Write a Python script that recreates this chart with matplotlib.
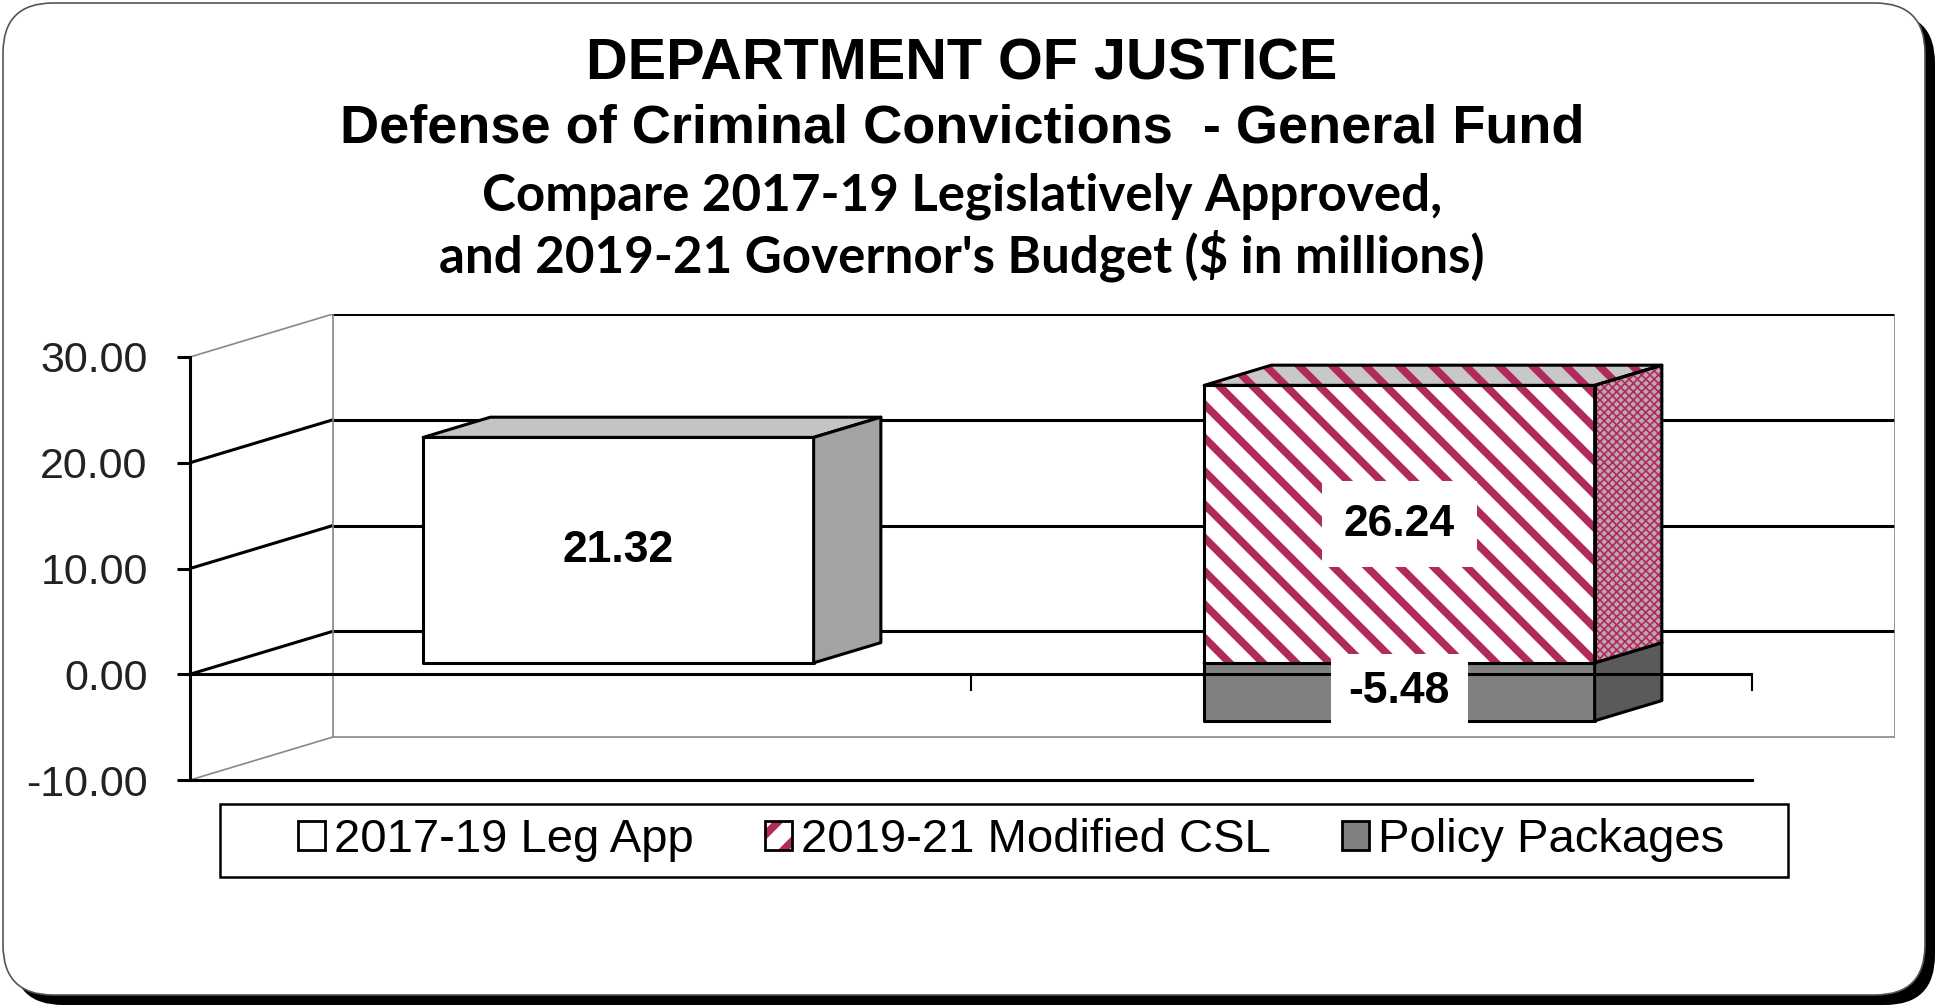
import numpy as np
import matplotlib
matplotlib.use("Agg")
import matplotlib.pyplot as plt
from matplotlib.patches import Polygon, Patch, FancyBboxPatch, Rectangle
from matplotlib.ticker import FormatStrFormatter

# === Dados ===
categorias = ["2017-19", "2019-21"]
series = ["2017-19 Leg App", "2019-21 Modified CSL", "Policy Packages"]
leg_app = [21.32, np.nan]
modified_csl = [np.nan, 26.24]
policy_packages = [np.nan, -5.48]
y_ticks = [-10, 0, 10, 20, 30]

titulo = ["DEPARTMENT OF JUSTICE",
          "Defense of Criminal Convictions  - General Fund",
          "Compare 2017-19 Legislatively Approved,",
          "and 2019-21 Governor's Budget ($ in millions)"]

# === Estilo ===
W, H, DPI = 1938, 1008, 100
plt.rcParams["font.family"] = ["Liberation Sans", "DejaVu Sans"]
plt.rcParams["hatch.linewidth"] = 5.5
CRIMSON = "#b02a5c"
LW = 2.2

# projecao pseudo 3D: deslocamento da parede do fundo
px_cat = 781.0      # pixels por categoria
px_val = 10.575     # pixels por unidade
ox = 143 / px_cat
oy = 43 / px_val
d0, d1 = 0.265, 0.735   # profundidade das barras
bw = 0.5

fig = plt.figure(figsize=(W / DPI, H / DPI), dpi=DPI)

# moldura arredondada com sombra
sombra = FancyBboxPatch((0.13, 0.03), 19.22, 9.92, boxstyle="round,pad=0,rounding_size=0.5",
                        transform=fig.dpi_scale_trans, facecolor="black", edgecolor="none", zorder=-3)
moldura = FancyBboxPatch((0.03, 0.13), 19.22, 9.92, boxstyle="round,pad=0,rounding_size=0.5",
                         transform=fig.dpi_scale_trans, facecolor="white", edgecolor="#555555", lw=1.2,
                         zorder=-2)
fig.patches.extend([sombra, moldura])

# === Eixo ===
ymin, ymax = y_ticks[0], y_ticks[-1]
left = 190 / W
bottom = (H - 780) / H
ax = fig.add_axes([left, bottom, (2 + ox) * px_cat / W, (ymax - ymin + oy) * px_val / H])
ax.set_xlim(-0.5, 1.5 + ox)
ax.set_ylim(ymin, ymax + oy)
ax.patch.set_visible(False)
for s in ["top", "right"]:
    ax.spines[s].set_visible(False)
ax.spines["left"].set_bounds(ymin, ymax)
ax.spines["bottom"].set_bounds(-0.5, 1.5)
ax.spines["left"].set_linewidth(LW)
ax.spines["bottom"].set_linewidth(LW)
ax.set_xticks([])
ax.set_yticks(y_ticks)
ax.yaxis.set_major_formatter(FormatStrFormatter("%.2f"))
ax.tick_params(axis="y", length=9.5, width=LW, pad=21, labelsize=31, labelcolor="#222222")

# paredes e grade
xb0, xb1 = -0.5 + ox, 1.5 + ox
for v in y_ticks:
    borda = v in (ymin, ymax)
    cor_lado = "#888888" if borda else "black"
    lw_lado = 1.2 if borda else LW
    ax.plot([-0.5, xb0], [v, v + oy], color=cor_lado, lw=lw_lado, zorder=1, solid_capstyle="butt")
    if v == ymin:
        ax.plot([xb0, xb1], [v + oy, v + oy], color="#888888", lw=1.2, zorder=1)
    else:
        ax.plot([xb0, xb1], [v + oy, v + oy], color="black", lw=LW, zorder=1)
ax.plot([xb0, xb0], [ymin + oy, ymax + oy], color="#888888", lw=1.2, zorder=1)
ax.plot([xb1, xb1], [ymin + oy, ymax + oy], color="#888888", lw=1.2, zorder=1)


def caixa(xc, v0, v1, frente, topo, lado, z):
    x0, x1 = xc - bw / 2, xc + bw / 2
    vt = max(v0, v1)
    f = [(x0 + d0 * ox, v0 + d0 * oy), (x1 + d0 * ox, v0 + d0 * oy),
         (x1 + d0 * ox, v1 + d0 * oy), (x0 + d0 * ox, v1 + d0 * oy)]
    t = [(x0 + d0 * ox, vt + d0 * oy), (x1 + d0 * ox, vt + d0 * oy),
         (x1 + d1 * ox, vt + d1 * oy), (x0 + d1 * ox, vt + d1 * oy)]
    s = [(x1 + d0 * ox, v0 + d0 * oy), (x1 + d1 * ox, v0 + d1 * oy),
         (x1 + d1 * ox, v1 + d1 * oy), (x1 + d0 * ox, v1 + d0 * oy)]
    for pts, kw in ((f, frente), (t, topo), (s, lado)):
        hatch = kw.get("hatch")
        if hatch:
            with plt.rc_context({"hatch.linewidth": kw.get("hlw", 5.5)}):
                ax.add_patch(Polygon(pts, closed=True, facecolor=kw["fc"], edgecolor=CRIMSON,
                                     hatch=hatch, lw=0, zorder=z))
            ax.add_patch(Polygon(pts, closed=True, fill=False, edgecolor="black", lw=LW,
                                 joinstyle="round", zorder=z + 0.1))
        else:
            ax.add_patch(Polygon(pts, closed=True, facecolor=kw["fc"], edgecolor="black", lw=LW,
                                 joinstyle="round", zorder=z))
    return xc + d0 * ox, (v0 + v1) / 2 + d0 * oy


for i, cat in enumerate(categorias):
    if not np.isnan(leg_app[i]):
        cx, cy = caixa(i, 0, leg_app[i], {"fc": "white"}, {"fc": "#c4c4c4"}, {"fc": "#a3a3a3"}, 3)
        ax.text(cx, cy, f"{leg_app[i]:.2f}", ha="center", va="center", fontsize=32,
                fontweight="bold", zorder=10)
    if not np.isnan(policy_packages[i]):
        cx, cy = caixa(i, 0, policy_packages[i], {"fc": "#808080"}, {"fc": "#a0a0a0"}, {"fc": "#5a5a5a"}, 3)
        ax.text(cx, cy, f"{policy_packages[i]:.2f}", ha="center", va="center", fontsize=32,
                fontweight="bold", zorder=10,
                bbox=dict(boxstyle="square,pad=0.4", facecolor="white", edgecolor="none"))
    if not np.isnan(modified_csl[i]):
        cx, cy = caixa(i, 0, modified_csl[i], {"fc": "white", "hatch": "\\"},
                       {"fc": "#c8c8c8", "hatch": "\\"},
                       {"fc": "#bda6b2", "hatch": "xxxx", "hlw": 1.2}, 4)
        ax.text(cx, cy, f"{modified_csl[i]:.2f}", ha="center", va="center", fontsize=32,
                fontweight="bold", zorder=10,
                bbox=dict(boxstyle="square,pad=0.5", facecolor="white", edgecolor="none"))

# eixo das categorias em zero (por cima das barras)
ax.plot([-0.5, 1.5], [0, 0], color="black", lw=LW, zorder=8, solid_capstyle="butt")
for xt in np.arange(0.5, len(categorias), 1.0):
    ax.plot([xt, xt], [0, -1.5], color="black", lw=1.5, zorder=8)

# === Titulos ===
cx_fig = 962 / W
fig.text(cx_fig, 1 - 80 / H, titulo[0], ha="center", va="baseline", fontsize=41.5, fontweight="bold")
fig.text(cx_fig, 1 - 143 / H, titulo[1], ha="center", va="baseline", fontsize=39, fontweight="bold")
fig.text(cx_fig, 1 - 210 / H, titulo[2], ha="center", va="baseline", fontsize=36.8, fontweight="bold",
         family=["Lato", "DejaVu Sans"])
fig.text(cx_fig, 1 - 273 / H, titulo[3], ha="center", va="baseline", fontsize=36.8, fontweight="bold",
         family=["Lato", "DejaVu Sans"])

# === Legenda ===
fig.patches.append(Rectangle((220 / W, 1 - 877 / H), 1568 / W, 73 / H, transform=fig.transFigure,
                             fill=False, edgecolor="black", lw=1.8))
handles = [Patch(facecolor="white", edgecolor="black", lw=2),
           (Patch(facecolor="white", edgecolor=CRIMSON, hatch="/", lw=0),
            Patch(fill=False, edgecolor="black", lw=2)),
           Patch(facecolor="#808080", edgecolor="black", lw=2)]
fig.legend(handles, series, loc="center", bbox_to_anchor=(1011 / W, 1 - 840 / H), ncol=3,
           frameon=False, fontsize=34, handlelength=0.57, handleheight=0.57,
           handletextpad=0.2, columnspacing=1.5)

fig.savefig("out.png", dpi=DPI)
